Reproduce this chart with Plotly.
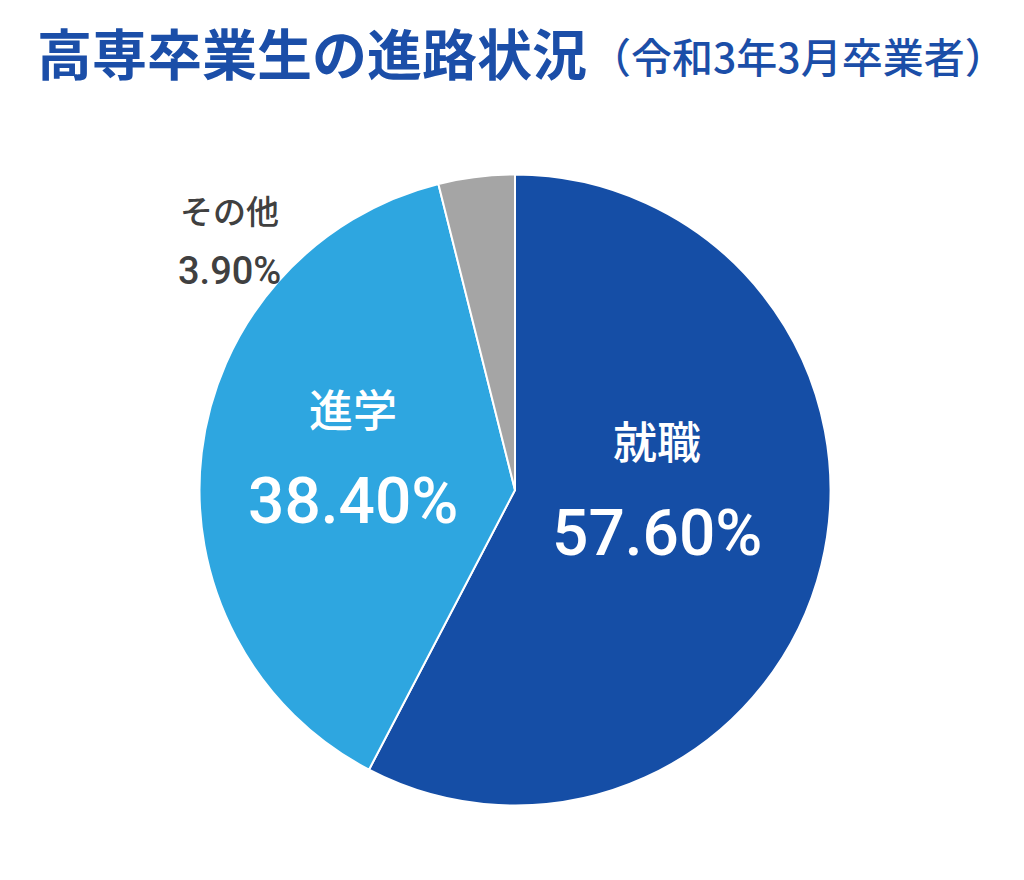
import plotly.graph_objects as go

categories = ["就職", "進学", "その他"]
values = [57.6, 38.4, 3.9]
colors = ["#154ea6", "#2ea6e0", "#a5a5a5"]
title_main = "高専卒業生の進路状況"
title_sub = "（令和3年3月卒業者）"

W, H = 1024, 880
cx, cy, r = 515, 490, 315.5

fig = go.Figure(go.Pie(
    labels=categories,
    values=values,
    sort=False,
    direction="clockwise",
    rotation=0,
    marker=dict(colors=colors, line=dict(color="white", width=2)),
    textinfo="none",
    hoverinfo="label+value",
    showlegend=False,
    domain=dict(x=[(cx - r) / W, (cx + r) / W], y=[1 - (cy + r) / H, 1 - (cy - r) / H]),
))

def px(x, y):
    return x / W, 1 - y / H

ann = []
# title
tx, ty = px(35, 51)
ann.append(dict(text="<b>" + title_main + "</b>", x=tx, y=ty, xref="paper", yref="paper",
                xanchor="left", yanchor="middle", showarrow=False,
                font=dict(family="Noto Sans CJK JP", size=55, color="#1b4ea8")))
sx, sy = px(588, 55)
ann.append(dict(text=title_sub, x=sx, y=sy, xref="paper", yref="paper",
                xanchor="left", yanchor="middle", showarrow=False,
                font=dict(family="Noto Sans CJK JP", size=41, color="#1b4ea8", weight=500)))

label_specs = [
    # (label center, pct center, label size, pct size, color)
    ((657, 440), (657, 533), 44, 64, "white"),
    ((353, 408), (353, 501), 44, 64, "white"),
    ((229, 210), (229, 271), 33, 38, "#404040"),
]
for cat, v, spec in zip(categories, values, label_specs):
    (lx, ly), (qx, qy), ls, qs, col = spec
    ax, ay = px(lx, ly)
    ann.append(dict(text=cat, x=ax, y=ay, xref="paper", yref="paper",
                    xanchor="center", yanchor="middle", showarrow=False,
                    font=dict(family="Noto Sans CJK JP", size=ls, color=col, weight=500)))
    bx, by = px(qx, qy)
    ann.append(dict(text=f"{v:.2f}%", x=bx, y=by, xref="paper", yref="paper",
                    xanchor="center", yanchor="middle", showarrow=False,
                    font=dict(family="Roboto", size=qs, color=col, weight=500)))

fig.update_layout(
    width=W, height=H,
    margin=dict(l=0, r=0, t=0, b=0),
    paper_bgcolor="white",
    plot_bgcolor="white",
    annotations=ann,
)

fig.write_html("out.html")
